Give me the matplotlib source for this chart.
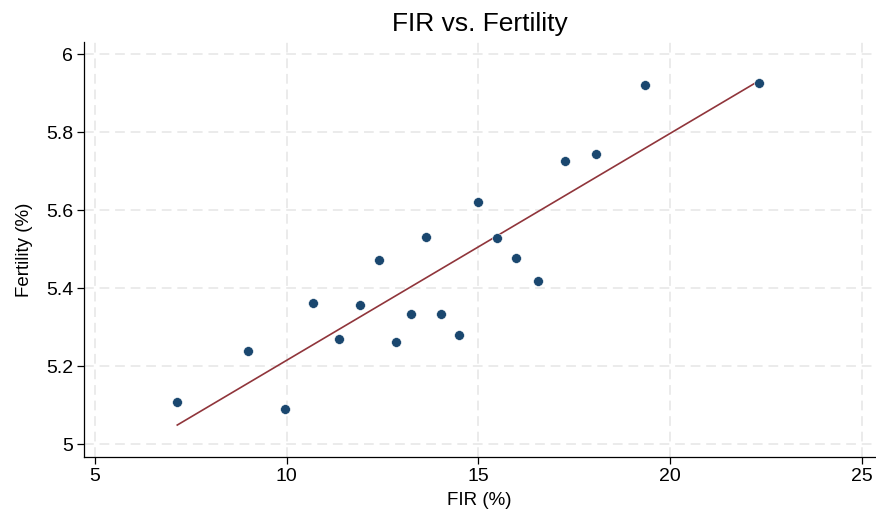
import numpy as np
import matplotlib
matplotlib.use("Agg")
import matplotlib.pyplot as plt

plt.rcParams["font.family"] = ["Liberation Sans", "DejaVu Sans"]

# FIR (%) and fertility (%)
fir = [7.15, 8.99, 9.95, 10.70, 11.36, 11.91, 12.40, 12.85, 13.25, 13.64,
       14.04, 14.49, 14.98, 15.48, 15.98, 16.57, 17.27, 18.08, 19.35, 22.33]
fertility = [5.108, 5.238, 5.089, 5.363, 5.269, 5.357, 5.472, 5.263, 5.334, 5.530,
             5.333, 5.279, 5.621, 5.529, 5.477, 5.418, 5.725, 5.744, 5.920, 5.926]
x_ticks = [5, 10, 15, 20, 25]
y_ticks = [5, 5.2, 5.4, 5.6, 5.8, 6]
y_tick_labels = ["5", "5.2", "5.4", "5.6", "5.8", "6"]

navy = "#1a476f"
maroon = "#90353b"

fig = plt.figure(figsize=(8.76, 5.14), dpi=100)
ax = fig.add_axes([0.096, 0.111, 0.903, 0.807])

# linear fit over the observed range
slope, intercept = np.polyfit(fir, fertility, 1)
xs = np.array([min(fir), max(fir)])
ax.plot(xs, slope * xs + intercept, color=maroon, lw=1.2, zorder=2)
ax.scatter(fir, fertility, s=50, color=navy, edgecolors="white",
           linewidths=0.4, zorder=3)

ax.set_xlim(4.72, 25.35)
ax.set_ylim(4.967, 6.031)
ax.set_xticks(x_ticks)
ax.set_yticks(y_ticks)
ax.set_yticklabels(y_tick_labels)
ax.grid(True, color="#ebebeb", linestyle=(0, (5, 3)), linewidth=1.4)
ax.set_axisbelow(True)

for side in ["top", "right"]:
    ax.spines[side].set_visible(False)
for side in ["left", "bottom"]:
    ax.spines[side].set_linewidth(0.9)
ax.tick_params(direction="out", length=5, width=0.9, labelsize=14, pad=3)

ax.set_title("FIR vs. Fertility", fontsize=19, pad=8)
ax.set_xlabel("FIR (%)", fontsize=13.5, labelpad=5)
ax.set_ylabel("Fertility (%)", fontsize=13.5, labelpad=9)

fig.savefig("out.png", dpi=100)
